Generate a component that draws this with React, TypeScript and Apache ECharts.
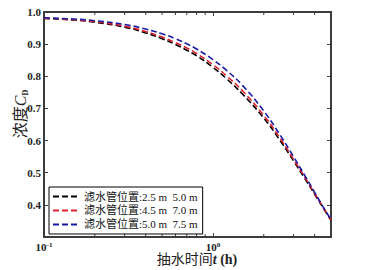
import React, { useEffect, useRef } from "react";
import * as echarts from "echarts";

// Data
const times = [0.1, 0.15, 0.2, 0.3, 0.4, 0.5, 0.6, 0.7, 0.8, 1.0, 1.2, 1.5, 2.0, 2.5, 3.0, 3.5, 4.0, 4.5, 5.0];
const seriesNames = [
  "滤水管位置:2.5 m  5.0 m",
  "滤水管位置:4.5 m  7.0 m",
  "滤水管位置:5.0 m  7.5 m",
];
const blackValues = [0.980, 0.975, 0.968, 0.953, 0.935, 0.917, 0.899, 0.881, 0.864, 0.828, 0.793, 0.744, 0.670, 0.600, 0.537, 0.482, 0.433, 0.390, 0.352];
const redValues = [0.981, 0.976, 0.970, 0.956, 0.939, 0.922, 0.905, 0.888, 0.871, 0.836, 0.802, 0.754, 0.678, 0.607, 0.542, 0.486, 0.436, 0.392, 0.353];
const blueValues = [0.982, 0.978, 0.973, 0.961, 0.947, 0.932, 0.917, 0.901, 0.885, 0.852, 0.819, 0.771, 0.692, 0.617, 0.550, 0.491, 0.439, 0.393, 0.354];
const minorTicks = [0.2, 0.3, 0.4, 0.5, 0.6, 0.7, 0.8, 0.9, 2, 3, 4];
const X_MIN = 0.1;
const X_MAX = 5;
const Y_MIN = 0.3;
const Y_MAX = 1.0;
const Y_INTERVAL = 0.1;
const colors = ["#000000", "#e0202c", "#1a1aa8"];

const SERIF = "'Liberation Serif', 'Times New Roman', 'Noto Sans CJK SC', serif";
const AXIS_COLOR = "#3c3c3c";

export default function App() {
  const ref = useRef<HTMLDivElement>(null);
  useEffect(() => {
    if (!ref.current) return;
    const chart = echarts.init(ref.current, null, { renderer: "svg" });
    const valueSets = [blackValues, redValues, blueValues];
    const lineSeries = valueSets.map((vals, i) => ({
      name: seriesNames[i],
      type: "line",
      xAxisIndex: 0,
      yAxisIndex: 0,
      data: times.map((t, j) => [t, vals[j]]),
      showSymbol: false,
      symbol: "none",
      smooth: true,
      lineStyle: { color: colors[i], width: 1.6, type: [6, 3] },
      itemStyle: { color: colors[i] },
      z: 3,
    }));

    const tickLen = 3;
    const minorSeries = {
      type: "custom",
      xAxisIndex: 0,
      yAxisIndex: 0,
      silent: true,
      data: minorTicks.map((v) => [v, Y_MIN]),
      renderItem: (params: any, api: any) => {
        const v = api.value(0);
        const bottom = api.coord([v, Y_MIN]);
        const top = api.coord([v, Y_MAX]);
        const st = { stroke: AXIS_COLOR, lineWidth: 1 };
        return {
          type: "group",
          children: [
            { type: "line", shape: { x1: bottom[0], y1: bottom[1], x2: bottom[0], y2: bottom[1] - tickLen }, style: st },
            { type: "line", shape: { x1: top[0], y1: top[1], x2: top[0], y2: top[1] + tickLen }, style: st },
          ],
        };
      },
      z: 2,
    };

    const xLabelFormatter = (val: number) => {
      if (Math.abs(val - 0.1) < 1e-9) return "{b|10}{s|-1}";
      if (Math.abs(val - 1) < 1e-9) return "{b|10}{s|0}";
      return "";
    };

    const option: any = {
      animation: false,
      backgroundColor: "#ffffff",
      textStyle: { fontFamily: SERIF },
      grid: { left: 44, top: 12, right: 54, bottom: 33, show: false },
      legend: {
        data: seriesNames.map((n) => ({ name: n, itemStyle: { opacity: 0 } })),
        orient: "vertical",
        left: 49,
        top: 187,
        itemWidth: 26,
        itemHeight: 12,
        itemGap: 3,
        padding: [4, 5, 4, 3],
        borderColor: "#000",
        borderWidth: 1,
        backgroundColor: "#fff",
        itemStyle: { opacity: 0 },
        textStyle: { fontFamily: SERIF, fontSize: 11, color: "#111" },
        z: 10,
      },
      xAxis: [
        {
          type: "log",
          logBase: 10,
          min: X_MIN,
          max: X_MAX,
          position: "bottom",
          axisLine: { show: true, lineStyle: { color: AXIS_COLOR, width: 2 } },
          axisTick: { show: true, inside: true, length: 4, lineStyle: { color: AXIS_COLOR } },
          splitLine: { show: false },
          axisLabel: {
            formatter: xLabelFormatter,
            showMaxLabel: false,
            margin: 4,
            rich: {
              b: { fontFamily: SERIF, fontSize: 11, fontWeight: "bold", color: "#222", lineHeight: 11, verticalAlign: "bottom" },
              s: { fontFamily: SERIF, fontSize: 7, fontWeight: "bold", color: "#222", lineHeight: 7, verticalAlign: "top" },
            },
          },
        },
        {
          type: "log",
          logBase: 10,
          min: X_MIN,
          max: X_MAX,
          position: "top",
          axisLine: { show: true, lineStyle: { color: AXIS_COLOR, width: 2 } },
          axisTick: { show: true, inside: true, length: 4, lineStyle: { color: AXIS_COLOR } },
          splitLine: { show: false },
          axisLabel: { show: false },
        },
      ],
      yAxis: [
        {
          type: "value",
          min: Y_MIN,
          max: Y_MAX,
          interval: Y_INTERVAL,
          position: "left",
          axisLine: { show: true, lineStyle: { color: AXIS_COLOR, width: 2 } },
          axisTick: { show: true, inside: true, length: 4, lineStyle: { color: AXIS_COLOR } },
          splitLine: { show: false },
          axisLabel: {
            showMinLabel: false,
            margin: 3,
            fontFamily: SERIF,
            fontSize: 11,
            fontWeight: "bold",
            color: "#222",
            formatter: (v: number) => v.toFixed(1),
          },
        },
        {
          type: "value",
          min: Y_MIN,
          max: Y_MAX,
          interval: Y_INTERVAL,
          position: "right",
          axisLine: { show: true, lineStyle: { color: AXIS_COLOR, width: 2 } },
          axisTick: { show: true, inside: true, length: 4, lineStyle: { color: AXIS_COLOR } },
          splitLine: { show: false },
          axisLabel: { show: false },
        },
      ],
      graphic: [
        {
          type: "text",
          x: 20,
          y: 114,
          rotation: Math.PI / 2,
          style: {
            text: "{a|浓度}{c|C}{d|D}",
            align: "center",
            verticalAlign: "middle",
            rich: {
              a: { fontFamily: SERIF, fontSize: 16, fill: "#222", lineHeight: 18, verticalAlign: "middle" },
              c: { fontFamily: SERIF, fontSize: 16, fontStyle: "italic", fill: "#222", lineHeight: 18, verticalAlign: "middle" },
              d: { fontFamily: SERIF, fontSize: 8, fontWeight: "bold", fill: "#222", lineHeight: 18, verticalAlign: "bottom" },
            },
          },
        },
        {
          type: "text",
          x: 197,
          y: 259,
          style: {
            text: "{a|抽水时间}{t|t}{h| (h)}",
            align: "center",
            verticalAlign: "middle",
            rich: {
              a: { fontFamily: SERIF, fontSize: 14, fill: "#222" },
              t: { fontFamily: SERIF, fontSize: 14, fontStyle: "italic", fontWeight: "bold", fill: "#222" },
              h: { fontFamily: SERIF, fontSize: 14, fontWeight: "bold", fill: "#222" },
            },
          },
        },
      ],
      series: [minorSeries, ...lineSeries],
    };
    chart.setOption(option);
    return () => chart.dispose();
  }, []);
  return <div ref={ref} style={{ position: "absolute", left: 0, top: 0, width: 385, height: 270 }} />;
}
